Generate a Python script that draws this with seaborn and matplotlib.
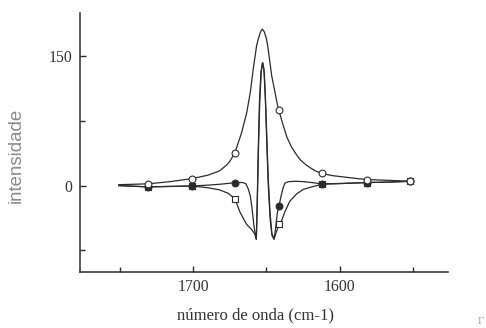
import matplotlib
matplotlib.use("Agg")
import seaborn as sns
import matplotlib.pyplot as plt

# broad band (open circles)
a_x = [1751, 1731, 1716, 1701, 1690, 1682, 1677, 1675, 1671.5, 1667, 1663.5,
       1661, 1659, 1656.7, 1655.5, 1654, 1652.8, 1651.5, 1650, 1649, 1646.4,
       1642.3, 1639, 1636, 1633, 1630, 1627, 1623, 1620, 1616, 1612, 1605,
       1597.5, 1589, 1581.5, 1566, 1552]
a_y = [1, 2, 4.5, 8, 12, 17, 24, 28, 38, 61, 84,
       108, 135, 162, 170, 178, 181, 178, 170, 160, 127,
       92, 72, 56, 45, 37, 30, 24, 20.5, 16.5, 14, 11.5,
       10, 8.3, 7, 6, 5]

# narrow band, filled circles
b_x = [1751, 1731, 1716, 1701, 1690, 1682, 1676, 1671.5, 1666, 1664, 1662.4,
       1661, 1660, 1659.2, 1658.5, 1657.5, 1656.9, 1656.3, 1655.6, 1654.8,
       1653.8, 1652.8, 1651.8, 1650.8, 1649.8, 1648.8, 1647.6, 1646.3, 1644.8,
       1643.8, 1642.6, 1641.2, 1640, 1638.5, 1637.3, 1635, 1630, 1624, 1612,
       1597, 1581.5, 1566, 1552]
b_y = [0, -1.5, -1, -0.5, 0.5, 1.5, 2.5, 3.5, 3.5, 2, -4,
       -12, -24, -36, -47, -57, -62, -20, 40, 95,
       130, 142, 135, 105, 60, 10, -30, -55, -62,
       -50, -32, -22, -12, -2, 3, 4.5, 5, 4.5, 2,
       2.5, 3.5, 4, 5]

# narrow band, open squares
c_x = [1751, 1731, 1716, 1701, 1690, 1682, 1676, 1671.5, 1668, 1663.5, 1660,
       1658, 1656.9, 1656.2, 1655.4, 1654.5, 1653.5, 1652.4, 1651.4, 1650.5,
       1649.6, 1648.6, 1647.4, 1646.2, 1644.8, 1643.5, 1642, 1640.2, 1637.3,
       1634, 1629.3, 1624.8, 1618, 1612, 1597, 1581.5, 1566, 1552]
c_y = [0, -1.5, -1, -0.5, -2.5, -5, -9, -15.5, -31, -45, -51,
       -56, -62, -15, 45, 100, 133, 142, 130, 90,
       40, -5, -40, -58, -62, -55, -48, -43, -30,
       -18, -9.5, -4.4, -1, 1.5, 2.5, 3.5, 4, 5]

# marked points
mk_x = [1731, 1701, 1671.5, 1641.5, 1612, 1581.5, 1552]
a_mk = [2, 8, 38, 88, 14, 7, 5]
b_mk = [-1.5, -0.5, 3.5, -24, 1.5, 3.5, 5]
c_mk = [-1.5, -0.5, -15.5, -44, 1.5, 3.5, 5]

ink = "#2b2b2b"

sns.set_style("ticks")
plt.rcParams["font.family"] = ["Liberation Serif", "DejaVu Serif"]

fig = plt.figure(figsize=(4.86, 3.28), dpi=100)
ax = fig.add_axes([0.1656, 0.1707, 0.7562, 0.7906])

for xs, ys in [(c_x, c_y), (b_x, b_y), (a_x, a_y)]:
    sns.lineplot(x=xs, y=ys, ax=ax, color=ink, lw=0.9, sort=False,
                 estimator=None, zorder=2)

sns.scatterplot(x=mk_x, y=c_mk, ax=ax, marker="s", s=24, color="white",
                edgecolor=ink, linewidth=0.8, zorder=3)
sns.scatterplot(x=mk_x, y=b_mk, ax=ax, marker="o", s=24, color=ink,
                edgecolor=ink, linewidth=0.8, zorder=4)
sns.scatterplot(x=mk_x, y=a_mk, ax=ax, marker="o", s=24, color="white",
                edgecolor=ink, linewidth=0.8, zorder=5)

ax.set_xlim(1777, 1526)
ax.set_ylim(-100, 200)
ax.set_xticks([1700, 1600])
ax.set_xticks([1750, 1650, 1550], minor=True)
ax.set_yticks([0, 150])
ax.set_yticks([-75, 75], minor=True)
ax.tick_params(which="major", direction="in", length=4.5, width=1, color=ink,
               labelsize=11.3, labelcolor="#333333")
ax.tick_params(which="minor", direction="in", length=3.5, width=1, color=ink)
ax.tick_params(axis="y", pad=6)
ax.tick_params(axis="x", pad=5)

sns.despine(ax=ax)
for side in ["left", "bottom"]:
    ax.spines[side].set_linewidth(1.1)
    ax.spines[side].set_color(ink)

ax.set_xlabel("número de onda (cm-1)", fontsize=12, color="#333333")
ax.xaxis.set_label_coords(0.477, -0.137)
ax.set_ylabel("intensidade", fontsize=13.4, color="#8a8a8a",
              family=["Liberation Sans", "DejaVu Sans"], fontweight="light")
ax.yaxis.set_label_coords(-0.152, 0.449)

fig.text(481 / 486, 1 - 322 / 328, "Γ", fontsize=8, color="#9a9a9a",
         ha="center", va="center")

fig.savefig("out.png", dpi=100)
